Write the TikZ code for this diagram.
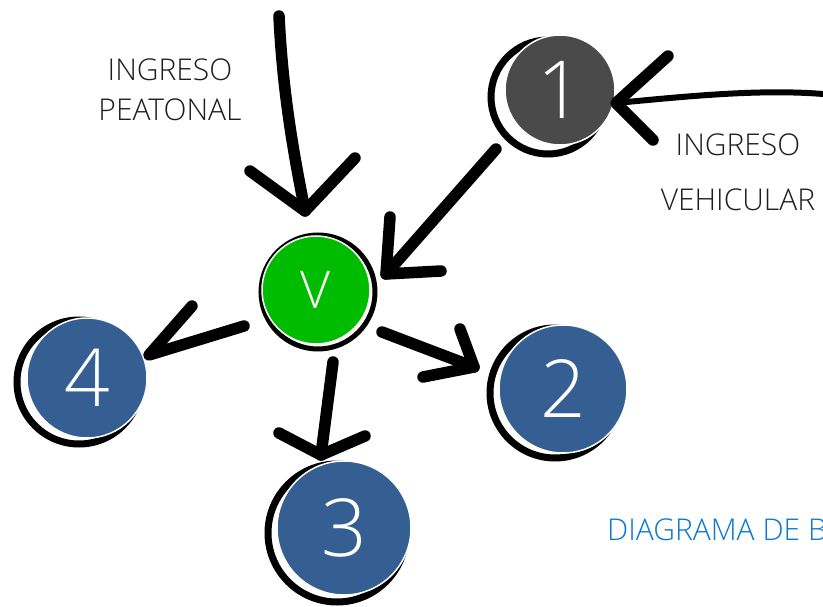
\documentclass[tikz,border=0pt]{standalone}
\usepackage{fontspec}
\IfFontExistsTF{Open Sans Light}{\setmainfont{Open Sans Light}}{\setmainfont{Open Sans}}
\definecolor{darkbub}{HTML}{4A4A4A}
\definecolor{greenbub}{HTML}{00BC00}
\definecolor{bluebub}{HTML}{355E93}
\definecolor{titleblue}{HTML}{0A78D2}
\definecolor{labelgray}{HTML}{1E1E1E}
\begin{document}
\begin{tikzpicture}[x=1pt,y=-1pt,
  ring/.style={circle, draw=black, line width=7pt, inner sep=0pt, minimum size=#1},
  bubble/.style={circle, draw=white, line width=1.5pt, text=white, inner sep=0pt,
     minimum size=#1, font=\fontsize{80}{80}\selectfont},
  shaft/.style={draw=black, line width=11.5pt, line cap=round, line join=round},
  lbl/.style={text=labelgray, font=\fontsize{30}{30}\selectfont, inner sep=0pt}]
\useasboundingbox (0,0) rectangle (823,607);
\clip (0,0) rectangle (823,607);
\fill[white] (0,0) rectangle (823,607);

% rings (sketchy outlines)
\node[ring=114pt] (r1) at (548,97) {};
\node[ring=114pt, line width=5pt] (rv) at (318,292) {};
\node[ring=124pt] (r4) at (79,382) {};
\node[ring=138pt] (r3) at (337,533) {};
\node[ring=130pt] (r2) at (555,393) {};

% bubbles
\node[bubble=110pt, fill=darkbub] (n1) at (560,90) {1};
\node[bubble=108pt, fill=greenbub, font=\fontsize{52}{52}\selectfont] (v) at (316,290) {V};
\node[bubble=120pt, fill=bluebub] (n4) at (87,378) {4};
\node[bubble=134pt, fill=bluebub] (n3) at (344,528) {3};
\node[bubble=128pt, fill=bluebub] (n2) at (563,389) {2};

% labels
\node[lbl] (lp1) at (170,70) {INGRESO};
\node[lbl] (lp2) at (170,110) {PEATONAL};
\node[lbl] (lv1) at (738,145) {INGRESO};
\node[lbl] (lv2) at (738,200) {VEHICULAR};
\node[text=titleblue, font=\fontsize{30}{30}\selectfont, inner sep=0pt, anchor=base west] (title) at (607,540) {DIAGRAMA DE BURBUJAS};

% coordinates for arrows
\coordinate (p0) at (279,16);
\coordinate (pt) at (305,211);
\coordinate (pw1) at (250,171);
\coordinate (pw2) at (355,158);

\coordinate (q0) at (823,94);
\coordinate (qt) at (616,103);
\coordinate (qw1) at (668,56);
\coordinate (qw2) at (653,140);

\coordinate (a0) at (496,149);
\coordinate (at) at (386,274);
\coordinate (aw1) at (390,217);
\coordinate (aw2) at (441,271);

\coordinate (b0) at (244,326);
\coordinate (bt) at (149,355);
\coordinate (bw1) at (192,306);

\coordinate (c0) at (333,362);
\coordinate (ct) at (321,455);
\coordinate (cw1) at (279,433);
\coordinate (cw2) at (365,436);

\coordinate (d0) at (382,332);
\coordinate (dt) at (474,367);
\coordinate (dw1) at (460,329);
\coordinate (dw2) at (423,377);

% peatonal arrow -> V
\draw[shaft] (p0) .. controls (283,100) and (296,165) .. (pt);
\draw[shaft] (pw1) -- (pt) -- (pw2);

% vehicular arrow -> 1
\draw[shaft, line width=6pt] (q0) .. controls (760,89) and (690,96) .. (qt);
\draw[shaft] (qw1) -- (qt) -- (qw2);

% 1 -> V
\draw[shaft] (a0) -- (at);
\draw[shaft] (aw1) -- (at) -- (aw2);

% V -> 4
\draw[shaft] (bw1) -- (bt) -- (b0);

% V -> 3
\draw[shaft] (c0) -- (ct);
\draw[shaft] (cw1) -- (ct) -- (cw2);

% V -> 2
\draw[shaft] (d0) -- (dt);
\draw[shaft] (dw1) -- (dt) -- (dw2);
\end{tikzpicture}
\end{document}
